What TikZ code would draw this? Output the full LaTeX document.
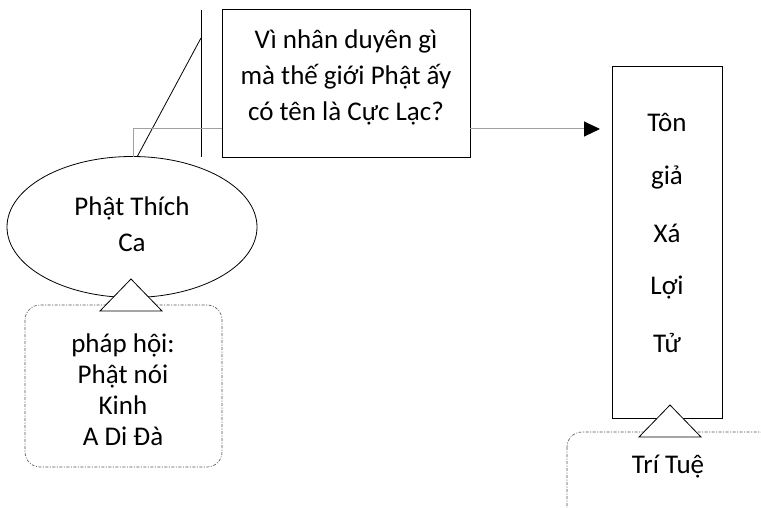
\documentclass[tikz,border=0pt]{standalone}
\usepackage{fontspec}
\setmainfont{Carlito}
\usetikzlibrary{arrows.meta,shapes.geometric}
\definecolor{lgray}{HTML}{A0A0A0}
\definecolor{dgray}{HTML}{505050}
\tikzset{
  txt/.style={inner sep=0pt, align=center, font=\fontsize{27}{36}\selectfont},
  boxline/.style={draw=black, line width=0.8pt},
  conn/.style={draw=lgray, line width=1pt},
  dashdotbox/.style={draw=dgray, line width=0.6pt, rounded corners=15pt,
     dash pattern=on 3pt off 1.5pt on 1pt off 1.5pt},
  tri/.style={draw=black, line width=0.8pt, fill=white},
}
\begin{document}
\begin{tikzpicture}[x=1pt,y=-1pt]
\useasboundingbox (0,0) rectangle (761,508);
\fill[white] (0,0) rectangle (761,508);

% ellipse
\node[boxline, ellipse, minimum width=250, minimum height=141, inner sep=0pt] (sak) at (132,227) {};
\node[txt, font=\fontsize{27}{36}\selectfont] (sakt) at (132,224) {Phật Thích\\Ca};

% left dash-dot box
\draw[dashdotbox] (25,305) rectangle (222,467);
\node[txt, font=\fontsize{27}{31}\selectfont] (hoi) at (123,390) {pháp hội:\\Phật nói\\Kinh\\A Di Đà};
\draw[tri] (131,279) -- (162,311) -- (100,311) -- cycle;

% question box
\node[boxline, minimum width=248, minimum height=148, inner sep=0pt] (q) at (346,83) {};
\node[txt] (qt) at (346,77) {Vì nhân duyên gì\\mà thế giới Phật ấy\\có tên là Cực Lạc?};

% vertical line and slant
\coordinate (v1) at (201,10);
\coordinate (v2) at (201,157);
\draw[black, line width=0.8pt] (v1) -- (v2);
\coordinate (s1) at (137,157);
\coordinate (s2) at (201,38);
\draw[black, line width=0.8pt] (s1) -- (s2);

% gray connector ellipse -> box
\coordinate (c0) at (133,157);
\draw[conn] (c0) |- (q.west |- 0,129);

% arrow box -> right box
\node[boxline, minimum width=110, minimum height=352, inner sep=0pt] (ton) at (667,242) {};
\coordinate (a0) at (q.east |- 0,129);
\coordinate (a1) at (600,129);
\draw[conn, -{Triangle[length=16pt,width=15pt,black]}] (a0) -- (a1);

\node[txt] (t1) at (667,122) {Tôn};
\node[txt] (t2) at (667,177) {giả};
\node[txt] (t3) at (667,233) {Xá};
\node[txt] (t4) at (667,288) {Lợi};
\node[txt] (t5) at (667,343) {Tử};

% right dash-dot box
\draw[dashdotbox] (567,432) rectangle (775,525);
\node[txt] (tri) at (668,467) {Trí Tuệ};
\draw[tri] (670,405) -- (701,437) -- (639,437) -- cycle;
\end{tikzpicture}
\end{document}
